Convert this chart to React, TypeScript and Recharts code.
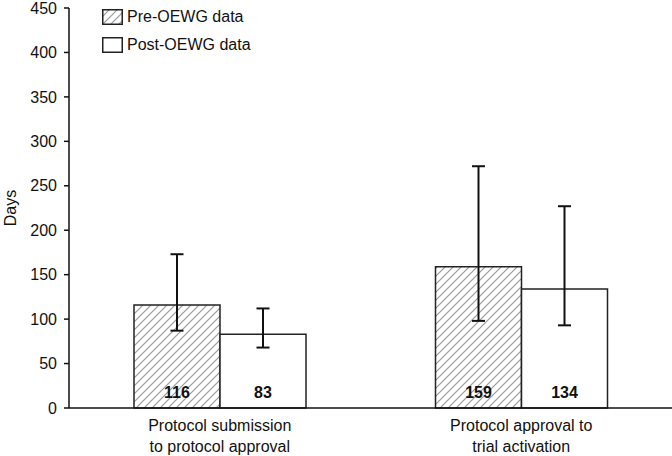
import { Bar, BarChart, ErrorBar, LabelList, XAxis, YAxis } from 'recharts';

const categories = [
  'Protocol submission\nto protocol approval',
  'Protocol approval to\ntrial activation',
];
const preValues = [116, 159];
const preLow = [87, 98];
const preHigh = [173, 272];
const postValues = [83, 134];
const postLow = [68, 93];
const postHigh = [112, 227];
const yTicks = [0, 50, 100, 150, 200, 250, 300, 350, 400, 450];
const legendLabels = ['Pre-OEWG data', 'Post-OEWG data'];

const FONT = '"Liberation Sans", Arial, sans-serif';

const data = categories.map((name, i) => ({
  name,
  pre: preValues[i],
  preErr: [preValues[i] - preLow[i], preHigh[i] - preValues[i]],
  post: postValues[i],
  postErr: [postValues[i] - postLow[i], postHigh[i] - postValues[i]],
}));

function CategoryTick({ x, y, payload }: any) {
  const lines = String(payload.value).split('\n');
  return (
    <text x={x} y={y} textAnchor="middle" fontSize={16} fill="#111" fontFamily={FONT}>
      {lines.map((line, i) => (
        <tspan key={i} x={x} dy={i === 0 ? 15 : 21}>
          {line}
        </tspan>
      ))}
    </text>
  );
}

function HatchBox({ hatched }: { hatched: boolean }) {
  return (
    <svg width={21} height={16} style={{ display: 'block' }}>
      <defs>
        <pattern id="legendHatch" patternUnits="userSpaceOnUse" width={8} height={8}>
          <path d="M0,8 L8,0 M-2,2 L2,-2 M6,10 L10,6" stroke="#999" strokeWidth={1.2} />
        </pattern>
      </defs>
      <rect
        x={0.75}
        y={0.75}
        width={19.5}
        height={14.5}
        fill={hatched ? 'url(#legendHatch)' : '#fff'}
        stroke="#222"
        strokeWidth={1.5}
      />
    </svg>
  );
}

function ChartLegend() {
  return (
    <div
      style={{
        position: 'absolute',
        left: 102,
        top: 3,
        fontFamily: FONT,
        fontSize: 16,
        color: '#111',
      }}
    >
      {legendLabels.map((label, i) => (
        <div key={label} style={{ display: 'flex', alignItems: 'center', gap: 4, height: 28 }}>
          <HatchBox hatched={i === 0} />
          <span>{label}</span>
        </div>
      ))}
    </div>
  );
}

export default function App() {
  return (
    <div style={{ position: 'absolute', left: 0, top: 0, width: 672, height: 456, background: '#fff' }}>
      <BarChart
        width={672}
        height={456}
        data={data}
        margin={{ top: 8, right: 0, bottom: 0, left: 0 }}
        barSize={86}
        barGap={0}
      >
        <defs>
          <pattern id="hatch" patternUnits="userSpaceOnUse" width={8} height={8}>
            <path d="M0,8 L8,0 M-2,2 L2,-2 M6,10 L10,6" stroke="#999" strokeWidth={1.2} />
          </pattern>
        </defs>
        <XAxis
          dataKey="name"
          height={48}
          tickLine={false}
          axisLine={{ stroke: '#111', strokeWidth: 1.5 }}
          tick={<CategoryTick />}
          interval={0}
        />
        <YAxis
          width={69}
          domain={[0, 450]}
          ticks={yTicks}
          interval={0}
          tickSize={5}
          tickMargin={7}
          axisLine={{ stroke: '#111', strokeWidth: 1.5 }}
          tickLine={{ stroke: '#111', strokeWidth: 1.5 }}
          tick={{ fontSize: 16, fill: '#111', fontFamily: FONT }}
          label={{
            content: () => (
              <text
                x={10}
                y={208}
                transform="rotate(-90 10 208)"
                textAnchor="middle"
                dominantBaseline="central"
                fontSize={16}
                fill="#111"
                fontFamily={FONT}
              >
                Days
              </text>
            ),
          }}
        />
        <Bar dataKey="pre" fill="url(#hatch)" stroke="#222" strokeWidth={1.5} isAnimationActive={false}>
          <ErrorBar dataKey="preErr" width={6.5} stroke="#111" strokeWidth={2} direction="y" />
          <LabelList
            dataKey="pre"
            position="insideBottom"
            offset={10}
            fontSize={16}
            fontWeight="bold"
            fill="#111"
            fontFamily={FONT}
          />
        </Bar>
        <Bar dataKey="post" fill="#fff" stroke="#222" strokeWidth={1.5} isAnimationActive={false}>
          <ErrorBar dataKey="postErr" width={6.5} stroke="#111" strokeWidth={2} direction="y" />
          <LabelList
            dataKey="post"
            position="insideBottom"
            offset={10}
            fontSize={16}
            fontWeight="bold"
            fill="#111"
            fontFamily={FONT}
          />
        </Bar>
      </BarChart>
      <ChartLegend />
    </div>
  );
}
